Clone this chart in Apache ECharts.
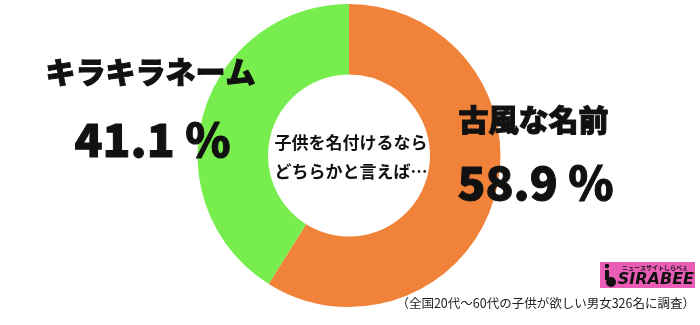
<!DOCTYPE html>
<html><head><meta charset="utf-8">
<script src="https://cdn.jsdelivr.net/npm/echarts@6/dist/echarts.min.js"></script>
<style>html,body{margin:0;padding:0;background:#fff}#c{width:700px;height:325px}</style>
</head><body><div id="c"></div>
<script>
const categories = ['古風な名前', 'キラキラネーム'];
const values = [58.9, 41.1];
const colors = ['#F0823A', '#77EE4D'];
const centerLines = ['子供を名付けるなら', 'どちらかと言えば…'];
const footnote = '（全国20代～60代の子供が欲しい男女326名に調査）';
const F = '"Noto Sans CJK JP", "Noto Sans", sans-serif';
const chart = echarts.init(document.getElementById('c'), null, {renderer: 'canvas'});
const pct = v => v.toFixed(1) + ' %';
const T = (o) => Object.assign({z: 100, zlevel: 0}, o);
const heavy = {fill: '#111', stroke: '#111', lineWidth: 1};
chart.setOption({
  animation: false,
  series: [{
    type: 'pie',
    z: 1,
    center: [349, 155.5],
    radius: [81, 151.5],
    startAngle: 90,
    clockwise: true,
    label: {show: false},
    labelLine: {show: false},
    emphasis: {disabled: true},
    data: categories.map((c, i) => ({name: c, value: values[i], itemStyle: {color: colors[i]}}))
  }],
  graphic: {elements: [
    T({type: 'text', left: 45, top: 56, style: Object.assign({text: categories[1], font: '900 30px ' + F}, heavy)}),
    T({type: 'text', left: 74, top: 116, style: Object.assign({text: pct(values[1]), font: '900 46px ' + F}, heavy)}),
    T({type: 'text', left: 458, top: 104, style: Object.assign({text: categories[0], font: '900 30px ' + F}, heavy)}),
    T({type: 'text', left: 457, top: 159, style: Object.assign({text: pct(values[0]), font: '900 46px ' + F}, heavy)}),
    T({type: 'text', x: 351, y: 143, style: {text: centerLines[0], font: 'bold 17px ' + F, fill: '#111', align: 'center', verticalAlign: 'middle'}}),
    T({type: 'text', x: 351, y: 172, style: {text: centerLines[1], font: 'bold 17px ' + F, fill: '#111', align: 'center', verticalAlign: 'middle'}}),
    T({type: 'text', right: 5, top: 297, style: {text: footnote, font: '12.5px ' + F, fill: '#222'}}),
    T({type: 'rect', shape: {x: 600, y: 262, width: 95, height: 26}, style: {fill: '#EA5DB6'}}),
    T({type: 'text', x: 688, y: 268, style: {text: 'ニュースサイトしらべぇ', font: 'bold 6px ' + F, fill: '#111', align: 'right', verticalAlign: 'middle'}}),
    T({type: 'text', x: 694, y: 280, style: {text: 'SIRABEE', font: 'italic 900 16px "DejaVu Sans", sans-serif', fill: '#111', align: 'right', verticalAlign: 'middle'}}),
    T({type: 'circle', shape: {cx: 607, cy: 266, r: 2.2}, style: {fill: '#111'}}),
    T({type: 'rect', shape: {x: 605, y: 270, width: 4, height: 10}, style: {fill: '#111'}}),
    T({type: 'circle', shape: {cx: 611, cy: 282, r: 5}, style: {fill: '#111'}})
  ]}
});
</script></body></html>
